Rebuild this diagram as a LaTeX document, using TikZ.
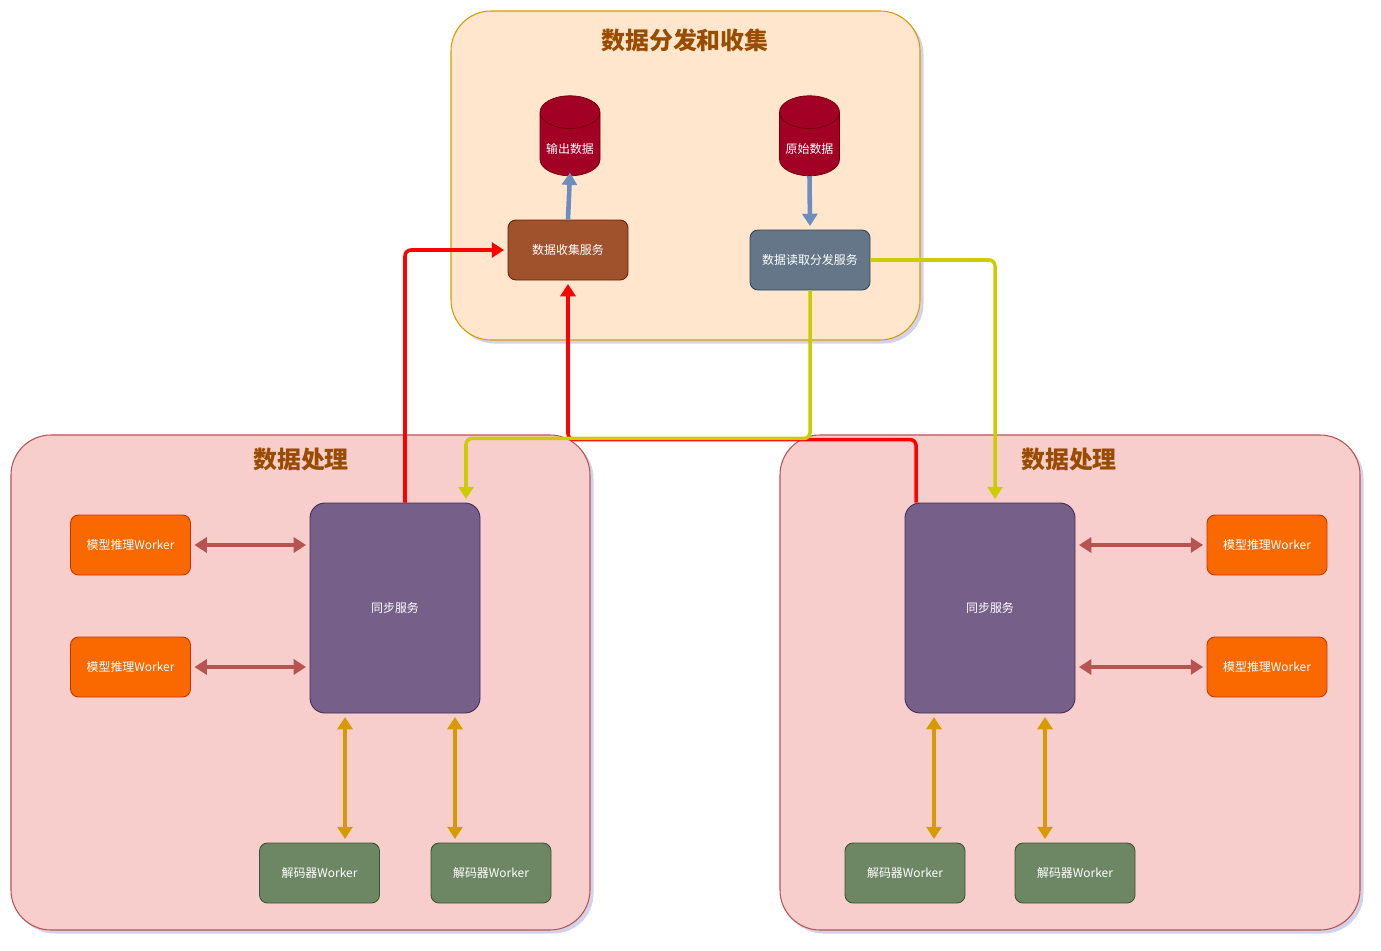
\documentclass[tikz,border=0pt]{standalone}
\usepackage{fontspec}
\usetikzlibrary{arrows.meta,shapes.geometric,shadows}
\setmainfont{Noto Sans CJK SC}
\definecolor{peach}{RGB}{255,230,204}
\definecolor{peachline}{RGB}{215,155,0}
\definecolor{pinkfill}{RGB}{248,206,204}
\definecolor{pinkline}{RGB}{184,84,80}
\definecolor{titlebrown}{RGB}{153,76,0}
\definecolor{dbred}{RGB}{162,0,37}
\definecolor{dbline}{RGB}{111,0,0}
\definecolor{sienna}{RGB}{160,82,45}
\definecolor{siennaline}{RGB}{109,31,0}
\definecolor{slate}{RGB}{100,118,135}
\definecolor{slateline}{RGB}{49,67,84}
\definecolor{violet}{RGB}{118,96,138}
\definecolor{violetline}{RGB}{67,45,87}
\definecolor{orangebox}{RGB}{250,104,0}
\definecolor{orangeline}{RGB}{199,53,0}
\definecolor{olive}{RGB}{109,135,100}
\definecolor{oliveline}{RGB}{58,84,49}
\definecolor{linkblue}{RGB}{108,142,191}
\definecolor{linkyellow}{RGB}{204,204,0}
\tikzset{
  zone/.style = {draw=#1, rounded corners=0.8cm, line width=0.6pt,
    drop shadow={opacity=0.25, fill=blue!40!gray, shadow xshift=2pt, shadow yshift=-2pt}},
  zonetitle/.style = {text=titlebrown, font=\fontsize{13.6}{16}\selectfont\bfseries},
  svc/.style = {draw=#1, rounded corners=0.16cm, line width=0.5pt, text=white,
    minimum width=2.4cm, minimum height=1.2cm, font=\fontsize{6.8}{8}\selectfont},
  db/.style = {cylinder, shape border rotate=90, aspect=0.55, draw=dbline, fill=dbred,
    text=white, minimum width=1.2cm, minimum height=1.6cm, font=\fontsize{6.8}{8}\selectfont},
  link/.style = {line width=2pt, rounded corners=0.12cm},
  tip/.style = {-{Triangle[length=7pt,width=8.5pt]}},
  twotip/.style = {{Triangle[length=7pt,width=8.5pt]}-{Triangle[length=7pt,width=8.5pt]}}
}

\begin{document}
\begin{tikzpicture}
  \useasboundingbox (0,0) rectangle (27.62,-19.02);

  % containers
  \node[zone=peachline, fill=peach, minimum width=9.38cm, minimum height=6.58cm] (top) at (13.71,-3.51) {};
  \node[zone=pinkline, fill=pinkfill, minimum width=11.58cm, minimum height=9.9cm] (left) at (6.01,-13.65) {};
  \node[zone=pinkline, fill=pinkfill, minimum width=11.6cm, minimum height=9.9cm] (right) at (21.4,-13.65) {};

  \node[zonetitle] (toptitle) at (13.70,-0.80) {数据分发和收集};
  \node[zonetitle] (lefttitle) at (6.02,-9.18) {数据处理};
  \node[zonetitle] (righttitle) at (21.38,-9.18) {数据处理};

  % data stores and services
  \node[db] (outdb) at (11.40,-2.98) {输出数据};
  \node[db] (rawdb) at (16.19,-2.98) {原始数据};
  \node[svc=siennaline, fill=sienna] (collect) at (11.36,-5.00) {数据收集服务};
  \node[svc=slateline, fill=slate] (dispatch) at (16.20,-5.20) {数据读取分发服务};

  % left processing
  \node[svc=violetline, fill=violet, minimum width=3.4cm, minimum height=4.2cm, rounded corners=0.3cm] (syncL) at (7.90,-12.16) {同步服务};
  \node[svc=orangeline, fill=orangebox] (modelL1) at (2.61,-10.90) {模型推理Worker};
  \node[svc=orangeline, fill=orangebox] (modelL2) at (2.61,-13.34) {模型推理Worker};
  \node[svc=oliveline, fill=olive] (decL1) at (6.39,-17.46) {解码器Worker};
  \node[svc=oliveline, fill=olive] (decL2) at (9.82,-17.46) {解码器Worker};

  % right processing
  \node[svc=violetline, fill=violet, minimum width=3.4cm, minimum height=4.2cm, rounded corners=0.3cm] (syncR) at (19.80,-12.16) {同步服务};
  \node[svc=orangeline, fill=orangebox] (modelR1) at (25.34,-10.90) {模型推理Worker};
  \node[svc=orangeline, fill=orangebox] (modelR2) at (25.34,-13.34) {模型推理Worker};
  \node[svc=oliveline, fill=olive] (decR1) at (18.10,-17.46) {解码器Worker};
  \node[svc=oliveline, fill=olive] (decR2) at (21.50,-17.46) {解码器Worker};

  % store links
  \draw[link, tip, linkblue, line width=2.6pt] (collect.north) -- ([yshift=2pt]outdb.south);
  \draw[link, tip, linkblue, line width=2.6pt] (rawdb.south) -- ([yshift=2pt]dispatch.north);

  % workers <-> sync
  \draw[link, twotip, pinkline] ([xshift=2pt]modelL1.east) -- ([xshift=-2pt]modelL1.east -| syncL.west);
  \draw[link, twotip, pinkline] ([xshift=2pt]modelL2.east) -- ([xshift=-2pt]modelL2.east -| syncL.west);
  \draw[link, twotip, pinkline] ([xshift=2pt]modelR1.west -| syncR.east) -- ([xshift=-2pt]modelR1.west);
  \draw[link, twotip, pinkline] ([xshift=2pt]modelR2.west -| syncR.east) -- ([xshift=-2pt]modelR2.west);
  \draw[link, twotip, peachline] ([xshift=-1.0cm,yshift=-2pt]syncL.south) -- ([xshift=-1.0cm,yshift=2pt]syncL.south |- decL1.north);
  \draw[link, twotip, peachline] ([xshift=1.2cm,yshift=-2pt]syncL.south) -- ([xshift=1.2cm,yshift=2pt]syncL.south |- decL2.north);
  \draw[link, twotip, peachline] ([xshift=-1.12cm,yshift=-2pt]syncR.south) -- ([xshift=-1.12cm,yshift=2pt]syncR.south |- decR1.north);
  \draw[link, twotip, peachline] ([xshift=1.1cm,yshift=-2pt]syncR.south) -- ([xshift=1.1cm,yshift=2pt]syncR.south |- decR2.north);

  % results up to collect
  \draw[link, tip, red] ([xshift=0.2cm]syncL.north) |- ([xshift=-2pt]collect.west);
  \draw[link, tip, red] ([xshift=-1.48cm]syncR.north) -- ++(0,1.26) -| ([yshift=-2pt]collect.south);

  % dispatch down to sync
  \draw[link, tip, linkyellow] (dispatch.south) -- ++(0,-2.96) -| ([xshift=1.42cm,yshift=2pt]syncL.north);
  \draw[link, tip, linkyellow] (dispatch.east) -| ([xshift=0.1cm,yshift=2pt]syncR.north);
\end{tikzpicture}
\end{document}
